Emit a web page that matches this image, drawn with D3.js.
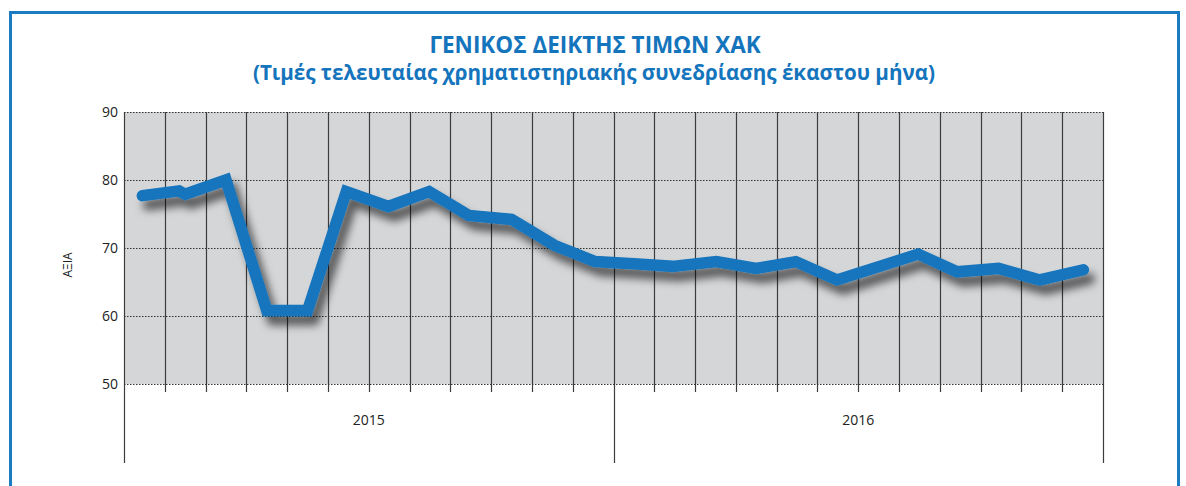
<!DOCTYPE html>
<html>
<head>
<meta charset="utf-8">
<script src="https://cdn.jsdelivr.net/npm/d3@7"></script>
<style>
  body { margin: 0; background: #fff; }
  text { font-family: "Open Sans", "Noto Sans", sans-serif; }
</style>
</head>
<body>
<div id="chart"></div>
<script>
/*
DATA
*/
const years = ["2015", "2016"];
const monthsPerYear = 12;
const yTicks = [50, 60, 70, 80, 90];
// position of each plotted session, counted in months from January 2015
const sessionPos = [0.45, 1.35, 1.5, 2.5, 3.5, 4.5, 5.45, 6.48, 7.48, 8.45, 9.5, 10.55, 11.55,
  12.5, 13.45, 14.52, 15.5, 16.47, 17.48, 19.47, 20.42, 21.44, 22.45, 23.52];
const indexValues = [77.7, 78.4, 77.9, 80.0, 60.8, 60.8, 78.3, 76.1, 78.3, 74.8, 74.2, 70.4, 68.0,
  67.7, 67.3, 68.0, 67.0, 68.0, 65.3, 69.1, 66.5, 67.0, 65.3, 66.8];

const title = "ΓΕΝΙΚΟΣ ΔΕΙΚΤΗΣ ΤΙΜΩΝ ΧΑΚ";
const subtitle = "(Τιμές τελευταίας χρηματιστηριακής συνεδρίασης έκαστου μήνα)";
const yLabel = "ΑΞΙΑ";

/*
SET UP
*/
const w = 1186;
const h = 486;
const m = { top: 112, right: 83, bottom: 102, left: 124 };
const blue = "#1474bc";

const svg = d3.select("#chart").append("svg")
  .attr("width", w)
  .attr("height", h);

const defs = svg.append("defs");
const shadow = defs.append("filter")
  .attr("id", "shadow")
  .attr("x", "-10%").attr("y", "-20%")
  .attr("width", "130%").attr("height", "160%");
shadow.append("feDropShadow")
  .attr("dx", 6).attr("dy", 9)
  .attr("stdDeviation", 4.5)
  .attr("flood-color", "#000")
  .attr("flood-opacity", 0.6);

// frame
svg.append("rect")
  .attr("x", 10.5).attr("y", 12.5)
  .attr("width", 1168).attr("height", 500)
  .attr("fill", "none")
  .attr("stroke", "#1a7bc0")
  .attr("stroke-width", 3);

// titles
svg.append("text")
  .attr("x", 595).attr("y", 53)
  .attr("text-anchor", "middle")
  .attr("fill", blue)
  .attr("font-size", 22.5).attr("font-weight", "bold")
  .text(title);
svg.append("text")
  .attr("x", 594).attr("y", 80)
  .attr("text-anchor", "middle")
  .attr("fill", blue)
  .attr("font-size", 20.6).attr("font-weight", "bold")
  .text(subtitle);

/*
SCALES
*/
const nMonths = years.length * monthsPerYear;
const x = d3.scaleLinear().domain([0, nMonths]).range([m.left, w - m.right]);
const y = d3.scaleLinear().domain([50, 90]).range([h - m.bottom, m.top]);

// plot background
svg.append("rect")
  .attr("x", x(0)).attr("y", y(90))
  .attr("width", x(nMonths) - x(0))
  .attr("height", y(50) - y(90))
  .attr("fill", "#d5d6d8");

// month grid lines (with small ticks below)
svg.append("g")
  .selectAll("line")
  .data(d3.range(1, nMonths))
  .join("line")
  .attr("x1", (d) => Math.round(x(d)) + 0.5)
  .attr("x2", (d) => Math.round(x(d)) + 0.5)
  .attr("y1", y(90))
  .attr("y2", (d) => (d % monthsPerYear === 0 ? 463 : y(50) + 8))
  .attr("stroke", "#3c3c3c")
  .attr("stroke-width", 1.2);

// outer verticals
svg.append("g")
  .selectAll("line")
  .data([0, nMonths])
  .join("line")
  .attr("x1", (d) => Math.round(x(d)) + 0.5)
  .attr("x2", (d) => Math.round(x(d)) + 0.5)
  .attr("y1", y(90))
  .attr("y2", 463)
  .attr("stroke", "#3c3c3c")
  .attr("stroke-width", 1.2);

// horizontal dotted grid
svg.append("g")
  .selectAll("line")
  .data(yTicks)
  .join("line")
  .attr("x1", x(0)).attr("x2", x(nMonths))
  .attr("y1", (d) => Math.round(y(d)) + 0.5)
  .attr("y2", (d) => Math.round(y(d)) + 0.5)
  .attr("stroke", "#333")
  .attr("stroke-width", 1)
  .attr("stroke-dasharray", "1.5,1.5");

// y axis labels
const yAxis = d3.axisLeft(y).tickValues(yTicks).tickSize(0).tickPadding(6);
svg.append("g")
  .attr("transform", `translate(${x(0)},0)`)
  .call(yAxis)
  .call((g) => g.select(".domain").remove())
  .selectAll("text")
  .attr("font-size", 14)
  .attr("fill", "#222")
  .attr("font-family", "Open Sans, sans-serif");

svg.append("text")
  .attr("transform", `translate(72,265) rotate(-90)`)
  .attr("text-anchor", "middle")
  .attr("font-size", 12)
  .attr("fill", "#222")
  .text(yLabel);

// year labels
svg.append("g")
  .selectAll("text")
  .data(years)
  .join("text")
  .attr("x", (d, i) => x(i * monthsPerYear + monthsPerYear / 2))
  .attr("y", 425)
  .attr("text-anchor", "middle")
  .attr("font-size", 14)
  .attr("fill", "#222")
  .text((d) => d);

/*
LINE
*/
const points = sessionPos.map((p, i) => [p, indexValues[i]]);
const line = d3.line()
  .x((d) => x(d[0]))
  .y((d) => y(d[1]));

svg.append("path")
  .datum(points)
  .attr("d", line)
  .attr("fill", "none")
  .attr("stroke", blue)
  .attr("stroke-width", 11.5)
  .attr("stroke-linejoin", "miter")
  .attr("stroke-linecap", "round")
  .attr("filter", "url(#shadow)");
</script>
</body>
</html>
